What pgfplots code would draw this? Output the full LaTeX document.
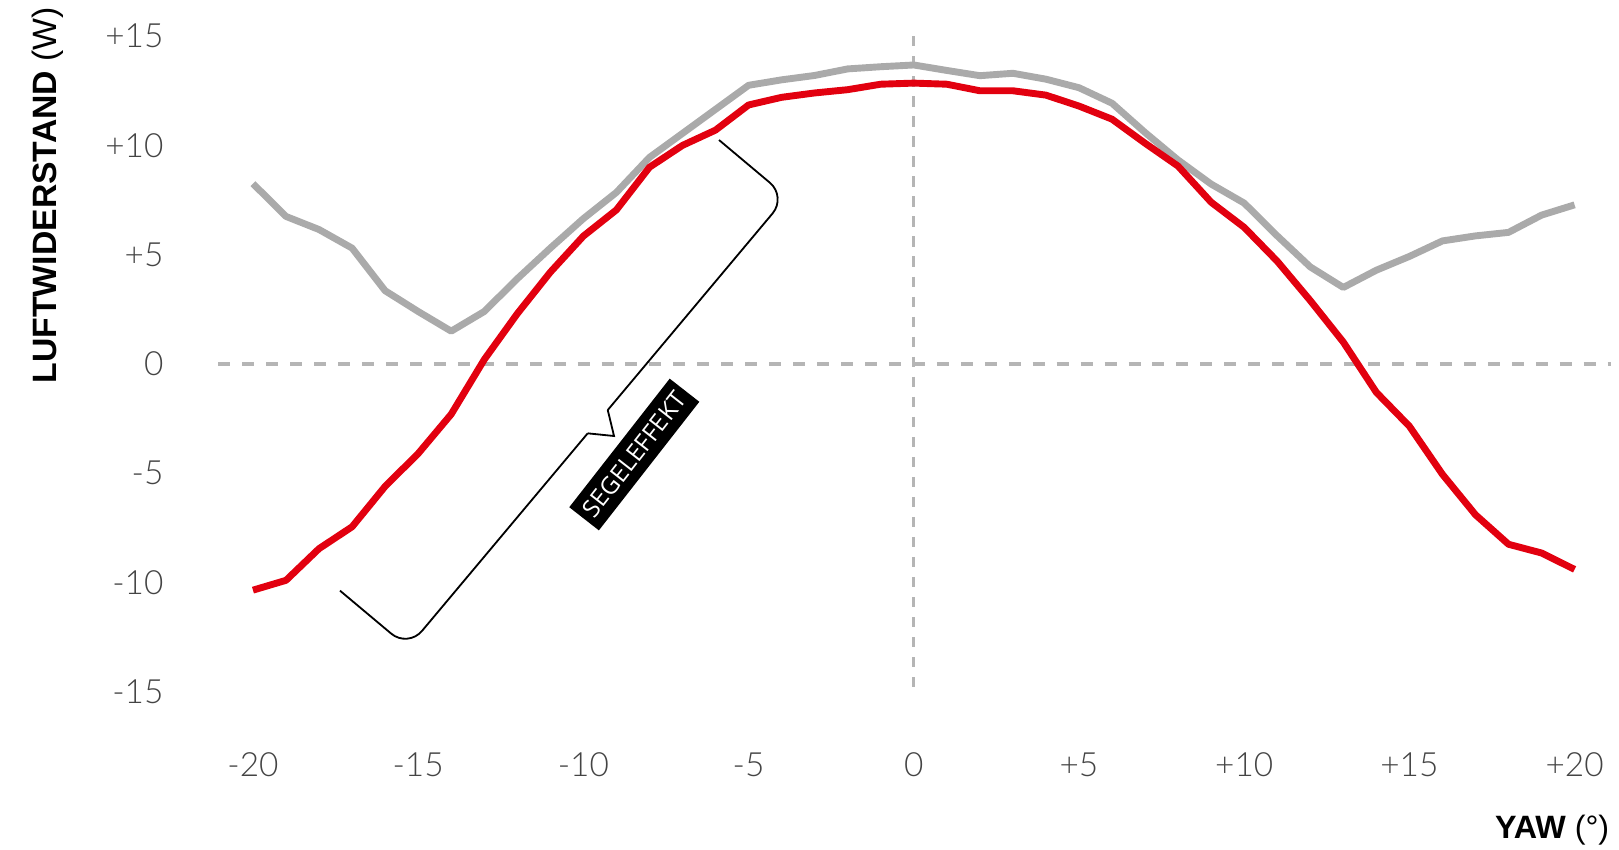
\documentclass[border=0pt]{standalone}
\usepackage{fontspec}
\usepackage{pgfplots}
\usepackage{pgfplotstable}
\pgfplotsset{compat=1.18}
\setmainfont{Liberation Sans}
\newfontfamily\tickfont{Lato Light}
\newfontfamily\labfont{Liberation Sans}
\newfontfamily\boxfont{Open Sans}
\definecolor{dragred}{HTML}{E2000F}
\definecolor{draggray}{HTML}{AAAAAA}
\definecolor{refgray}{HTML}{B5B5B5}
\definecolor{tickgray}{HTML}{444444}

% yaw (deg), red curve, gray curve  (drag in W)
\pgfplotstableread{
yaw  segel   ref
-20  -10.35  8.25
-19  -9.90   6.75
-18  -8.45   6.15
-17  -7.45   5.30
-16  -5.60   3.35
-15  -4.10   2.40
-14  -2.30   1.50
-13   0.20   2.40
-12   2.30   3.90
-11   4.20   5.30
-10   5.85   6.65
-9    7.05   7.85
-8    9.00   9.45
-7   10.00  10.55
-6   10.70  11.65
-5   11.85  12.75
-4   12.20  13.00
-3   12.40  13.20
-2   12.55  13.50
-1   12.80  13.60
0    12.85  13.68
1    12.80  13.43
2    12.50  13.19
3    12.50  13.30
4    12.30  13.03
5    11.80  12.64
6    11.20  11.93
7    10.10  10.59
8     9.05   9.33
9     7.40   8.23
10    6.25   7.36
11    4.70   5.86
12    2.90   4.44
13    1.00   3.50
14   -1.30   4.29
15   -2.85   4.92
16   -5.05   5.63
17   -6.90   5.86
18   -8.25   6.02
19   -8.65   6.81
20   -9.40   7.28
}\drag

\begin{document}
\begin{tikzpicture}
\path[use as bounding box] (-2.45,-1.53) rectangle (13.23,6.70);
\begin{axis}[
  at={(0,0)}, anchor=south west,
  width=12.8cm, height=6.35cm, scale only axis,
  xmin=-20, xmax=20, ymin=-15, ymax=15,
  clip=false,
  axis line style={draw=none},
  major tick length=0pt,
  xtick={-20,-15,...,20},
  xticklabels={-20,-15,-10,-5,0,+5,+10,+15,+20},
  ytick={-15,-10,...,15},
  yticklabels={-15,-10,-5,0,+5,+10,+15},
  tick label style={font=\tickfont\fontsize{9.2}{10}\selectfont, text=tickgray, inner sep=0pt},
  xticklabel style={anchor=north, yshift=-0.58cm},
  yticklabel style={anchor=east, xshift=-0.86cm},
]
% reference lines
\draw[refgray, line width=1pt, dash pattern=on 0.116cm off 0.116cm] (axis cs:-21.05,0) -- (axis cs:21.1,0);
\draw[refgray, line width=0.8pt, dash pattern=on 0.1cm off 0.094cm] (axis cs:0,15) -- (axis cs:0,-15);

\addplot[draggray, line width=1.9pt, line join=round] table[x=yaw, y=ref] {\drag};
\addplot[dragred, line width=1.9pt, line join=round] table[x=yaw, y=segel] {\drag};

% bracket
\draw[black, line width=0.5pt, rounded corners=6pt] (axis cs:-5.894,10.246) -- (axis cs:-3.85,7.652) -- (axis cs:-9.262,-2.107);
\draw[black, line width=0.5pt] (axis cs:-9.262,-2.107) -- (axis cs:-9.072,-3.297) -- (axis cs:-9.869,-3.174);
\draw[black, line width=0.5pt, rounded corners=6pt] (axis cs:-9.869,-3.174) -- (axis cs:-15.309,-12.981) -- (axis cs:-17.366,-10.373);
\node[fill=black, text=white, rotate=52, minimum width=1.58cm, minimum height=0.364cm, inner sep=0pt,
      font=\boxfont\fontsize{6.7}{7}\selectfont] at (axis cs:-8.459,-4.143) {SEGELEFFEKT};

% axis titles
\node[rotate=90, inner sep=0pt, font=\labfont\fontsize{9.3}{10}\selectfont] at (axis cs:-26.22,7.72) {\textbf{LUFTWIDERSTAND} (W)};
\node[anchor=base east, inner sep=0pt, font=\labfont\fontsize{8.9}{10}\selectfont] at (axis cs:21.07,-21.7) {\textbf{YAW} (°)};
\end{axis}
\end{tikzpicture}
\end{document}
